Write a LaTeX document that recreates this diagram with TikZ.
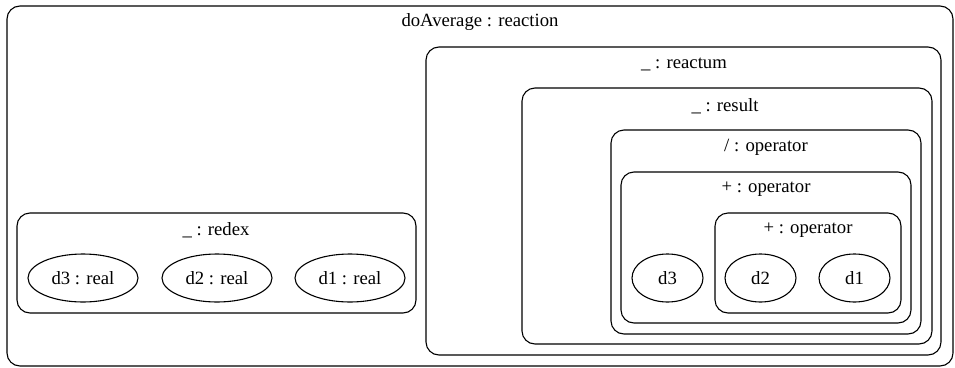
\documentclass[tikz,border=0pt]{standalone}
\usepackage{fontspec}
\setmainfont{Liberation Serif}
\usetikzlibrary{shapes.geometric}
\begin{document}
\begin{tikzpicture}[x=1pt,y=-1pt,
  box/.style={draw, rounded corners=13pt, inner sep=0pt, line width=1.1pt},
  lbl/.style={inner sep=0pt, font=\fontsize{18.7}{20}\selectfont},
  ell/.style={draw, ellipse, line width=1.1pt, inner sep=0pt, font=\fontsize{18.7}{20}\selectfont},
]
\useasboundingbox (0,0) rectangle (955,367);
% boxes
\node[box, minimum width=946pt, minimum height=360pt] (outer) at (480,186) {};
\node[box, minimum width=515pt, minimum height=308pt] (reactum) at (683.5,201) {};
\node[box, minimum width=410pt, minimum height=256pt] (result) at (727,216) {};
\node[box, minimum width=310pt, minimum height=204pt] (slash) at (766,232) {};
\node[box, minimum width=290pt, minimum height=151pt] (plusA) at (766,247.5) {};
\node[box, minimum width=186pt, minimum height=100pt] (plusB) at (808,263) {};
\node[box, minimum width=399pt, minimum height=100pt] (redex) at (216.5,263) {};
% labels
\node[lbl] (louter) at (480,22) {doAverage : reaction};
\node[lbl] (lreactum) at (684,64) {\_ : reactum};
\node[lbl] (lresult) at (725,106) {\_ : result};
\node[lbl] (lslash) at (766,147) {/ : operator};
\node[lbl] (lplusA) at (766,189) {+ : operator};
\node[lbl] (lplusB) at (808,230) {+ : operator};
\node[lbl] (lredex) at (216,230) {\_ : redex};
% ellipses
\node[ell, minimum width=110pt, minimum height=48pt] (rd3) at (83,278) {d3 : real};
\node[ell, minimum width=110pt, minimum height=48pt] (rd2) at (217,278) {d2 : real};
\node[ell, minimum width=110pt, minimum height=48pt] (rd1) at (350,278) {d1 : real};
\node[ell, minimum width=71pt, minimum height=48pt] (d3) at (667.5,278) {d3};
\node[ell, minimum width=71pt, minimum height=48pt] (d2) at (760.5,278) {d2};
\node[ell, minimum width=71pt, minimum height=48pt] (d1) at (854.5,278) {d1};
\end{tikzpicture}
\end{document}
